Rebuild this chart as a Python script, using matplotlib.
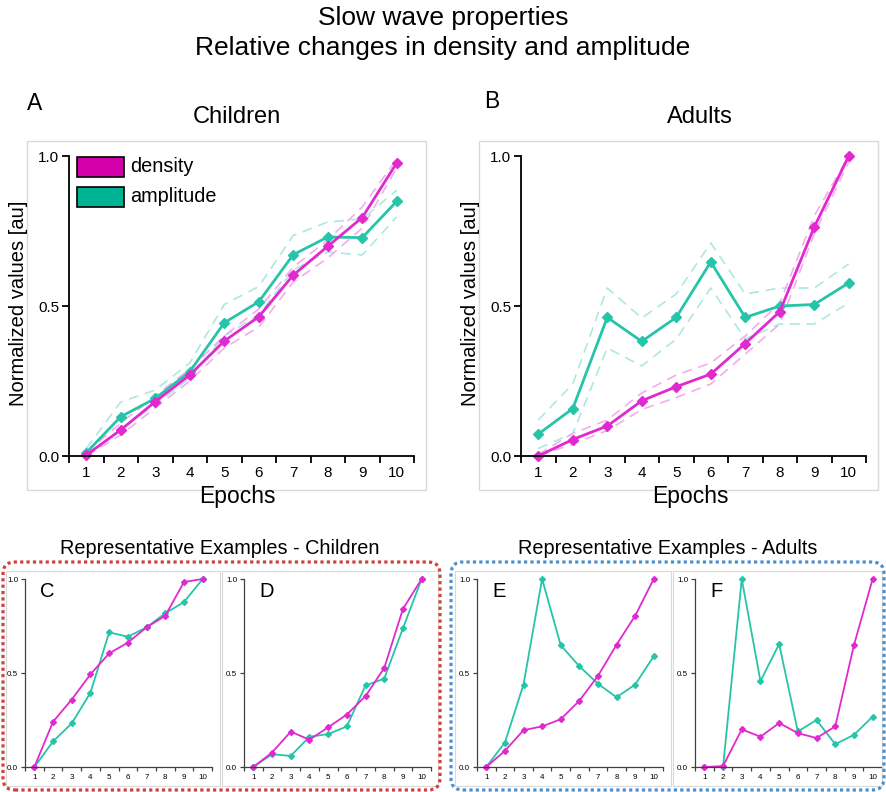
import matplotlib
matplotlib.use("Agg")
import matplotlib.pyplot as plt
from matplotlib.patches import Rectangle, FancyBboxPatch

plt.rcParams['font.family'] = ['Liberation Sans', 'DejaVu Sans']

W, H = 886, 792

# ── Data ──────────────────────────────────────────────────────────────────────
epochs = [1, 2, 3, 4, 5, 6, 7, 8, 9, 10]

child_density    = [0.003, 0.087, 0.181, 0.270, 0.383, 0.464, 0.603, 0.699, 0.795, 0.977]
child_density_hi = [0.012, 0.110, 0.200, 0.290, 0.400, 0.490, 0.630, 0.720, 0.830, 0.990]
child_density_lo = [0.000, 0.070, 0.160, 0.250, 0.360, 0.430, 0.580, 0.660, 0.760, 0.960]
child_amp        = [0.011, 0.131, 0.192, 0.281, 0.444, 0.514, 0.671, 0.730, 0.728, 0.849]
child_amp_hi     = [0.025, 0.180, 0.220, 0.310, 0.505, 0.565, 0.735, 0.780, 0.790, 0.886]
child_amp_lo     = [0.000, 0.090, 0.170, 0.260, 0.400, 0.470, 0.620, 0.680, 0.670, 0.797]

adult_density    = [0.000, 0.055, 0.100, 0.184, 0.231, 0.273, 0.375, 0.481, 0.763, 1.000]
adult_density_hi = [0.005, 0.075, 0.120, 0.210, 0.270, 0.310, 0.400, 0.510, 0.800, 1.000]
adult_density_lo = [0.000, 0.040, 0.085, 0.155, 0.195, 0.240, 0.340, 0.440, 0.740, 0.980]
adult_amp        = [0.073, 0.158, 0.462, 0.382, 0.462, 0.647, 0.462, 0.500, 0.505, 0.577]
adult_amp_hi     = [0.120, 0.240, 0.560, 0.460, 0.540, 0.710, 0.540, 0.560, 0.560, 0.640]
adult_amp_lo     = [0.025, 0.075, 0.360, 0.300, 0.390, 0.560, 0.390, 0.440, 0.440, 0.510]

ex_c_density = [0.0, 0.241, 0.359, 0.493, 0.604, 0.662, 0.743, 0.804, 0.984, 1.0]
ex_c_amp     = [0.0, 0.136, 0.232, 0.395, 0.716, 0.693, 0.743, 0.818, 0.877, 1.0]
ex_d_density = [0.0, 0.077, 0.188, 0.145, 0.211, 0.279, 0.377, 0.527, 0.841, 1.0]
ex_d_amp     = [0.0, 0.068, 0.059, 0.161, 0.175, 0.216, 0.434, 0.470, 0.738, 1.0]
ex_e_density = [0.0, 0.086, 0.196, 0.216, 0.254, 0.352, 0.484, 0.650, 0.804, 1.0]
ex_e_amp     = [0.0, 0.130, 0.438, 1.000, 0.648, 0.536, 0.443, 0.371, 0.438, 0.589]
ex_f_density = [0.0, 0.005, 0.200, 0.161, 0.234, 0.180, 0.154, 0.216, 0.648, 1.0]
ex_f_amp     = [0.0, 0.000, 1.000, 0.457, 0.654, 0.189, 0.250, 0.121, 0.171, 0.268]

# ── Styles ────────────────────────────────────────────────────────────────────
DENS = "#E02AD0"
AMP = "#26C4A8"
DENS_LIGHT = "#F3ACEC"
AMP_LIGHT = "#AEE8DE"
DENS_LEG = "#D400AA"
AMP_LEG = "#00B394"

fig = plt.figure(figsize=(W / 100, H / 100), dpi=100)
inch = fig.dpi_scale_trans


def px_axes(left, top, right, bottom):
    """Axes from pixel box (origin top-left)."""
    return fig.add_axes([left / W, 1 - bottom / H, (right - left) / W, (bottom - top) / H])


def frame(left, top, right, bottom, **kw):
    fig.patches.append(Rectangle((left / 100, (H - bottom) / 100),
                                 (right - left) / 100, (bottom - top) / 100,
                                 transform=inch, fill=False, **kw))


def ftext(x, y, s, **kw):
    fig.text(x / W, 1 - y / H, s, ha="center", va="center", **kw)


def style_axes(ax, tick_size, spine_col, spine_w, tick_len):
    ax.set_xlim(0.5, 10.5)
    ax.set_ylim(0, 1.0)
    for s in ["top", "right"]:
        ax.spines[s].set_visible(False)
    for s in ["left", "bottom"]:
        ax.spines[s].set_color(spine_col)
        ax.spines[s].set_linewidth(spine_w)
    ax.set_yticks([0, 0.5, 1.0])
    ax.set_yticklabels(["0.0", "0.5", "1.0"])
    # tick marks between categories, labels on the categories
    ax.set_xticks([x + 0.5 for x in range(0, 11)])
    ax.set_xticklabels([])
    ax.set_xticks(epochs, minor=True)
    ax.set_xticklabels([str(e) for e in epochs], minor=True)
    ax.tick_params(axis="x", which="major", length=tick_len, width=spine_w,
                   color=spine_col, direction="out")
    ax.tick_params(axis="x", which="minor", length=0, labelsize=tick_size, pad=tick_len + 2)
    ax.tick_params(axis="y", length=tick_len, width=spine_w, color=spine_col,
                   labelsize=tick_size, pad=2)
    ax.patch.set_alpha(0)


def main_panel(ax, dens, dens_hi, dens_lo, amp, amp_hi, amp_lo):
    dash = dict(lw=1.2, ls=(0, (6, 4)), clip_on=False)
    ax.plot(epochs, amp_hi, color=AMP_LIGHT, **dash)
    ax.plot(epochs, amp_lo, color=AMP_LIGHT, **dash)
    ax.plot(epochs, dens_hi, color=DENS_LIGHT, **dash)
    ax.plot(epochs, dens_lo, color=DENS_LIGHT, **dash)
    ax.plot(epochs, amp, color=AMP, lw=2.0, marker="D", ms=5.5, clip_on=False)
    ax.plot(epochs, dens, color=DENS, lw=2.0, marker="D", ms=5.5, clip_on=False)
    style_axes(ax, 11, "black", 1.3, 5)


def example_panel(ax, dens, amp, letter):
    ax.plot(epochs, amp, color=AMP, lw=1.3, marker="D", ms=3, clip_on=False)
    ax.plot(epochs, dens, color=DENS, lw=1.3, marker="D", ms=3, clip_on=False)
    style_axes(ax, 5.8, "#404040", 0.9, 3)
    ax.text(0.08, 0.935, letter, transform=ax.transAxes, fontsize=14.5, va="center", ha="left")


# ── Titles ────────────────────────────────────────────────────────────────────
ftext(443, 18, "Slow wave properties", fontsize=19)
ftext(443, 48, "Relative changes in density and amplitude", fontsize=19)

# ── Main panels ───────────────────────────────────────────────────────────────
frame(27, 141, 426, 490, edgecolor="#D9D9D9", lw=1)
frame(479, 141, 878, 490, edgecolor="#D9D9D9", lw=1)

axA = px_axes(69, 156, 414, 456)
main_panel(axA, child_density, child_density_hi, child_density_lo,
           child_amp, child_amp_hi, child_amp_lo)
axB = px_axes(521, 156, 866, 456)
main_panel(axB, adult_density, adult_density_hi, adult_density_lo,
           adult_amp, adult_amp_hi, adult_amp_lo)

for xc in [19, 471]:
    ftext(xc, 303, "Normalized values [au]", fontsize=14.5, rotation=90)
ftext(237, 496, "Epochs", fontsize=16.5)
ftext(690, 496, "Epochs", fontsize=16.5)

ftext(35, 103, "A", fontsize=16.5)
ftext(237, 117, "Children", fontsize=17)
ftext(492, 101, "B", fontsize=16.5)
ftext(700, 117, "Adults", fontsize=17)

# legend in panel A
for (y, col, lab) in [(167, DENS_LEG, "density"), (197, AMP_LEG, "amplitude")]:
    fig.patches.append(Rectangle((77 / 100, (H - y - 10) / 100), 47 / 100, 20 / 100,
                                 transform=inch, facecolor=col, edgecolor="black", lw=1.2))
    fig.text(130 / W, 1 - y / H, lab, fontsize=14.3, ha="left", va="center")

# ── Representative examples ───────────────────────────────────────────────────
ftext(220, 548, "Representative Examples - Children", fontsize=14.3)
ftext(668, 548, "Representative Examples - Adults", fontsize=14.3)

frame(6, 571, 220, 786, edgecolor="#D9D9D9", lw=0.8)
frame(222, 571, 438, 786, edgecolor="#D9D9D9", lw=0.8)
frame(455, 571, 671, 786, edgecolor="#D9D9D9", lw=0.8)
frame(673, 571, 882, 786, edgecolor="#D9D9D9", lw=0.8)

for (x0, x1, col) in [(3, 440, "#D0403C"), (451, 884, "#4A90D0")]:
    box = FancyBboxPatch((x0 / 100, (H - 790) / 100), (x1 - x0) / 100, (790 - 562) / 100,
                         boxstyle="round,pad=0,rounding_size=0.12", transform=inch,
                         fill=False, edgecolor=col, lw=2.3, ls=(0, (1, 1)))
    fig.patches.append(box)

axC = px_axes(25, 579, 212, 767)
example_panel(axC, ex_c_density, ex_c_amp, "C")
axD = px_axes(244, 579, 431, 767)
example_panel(axD, ex_d_density, ex_d_amp, "D")
axE = px_axes(477, 579, 663, 767)
example_panel(axE, ex_e_density, ex_e_amp, "E")
axF = px_axes(695, 579, 882, 767)
example_panel(axF, ex_f_density, ex_f_amp, "F")

fig.savefig("out.png", dpi=100)
